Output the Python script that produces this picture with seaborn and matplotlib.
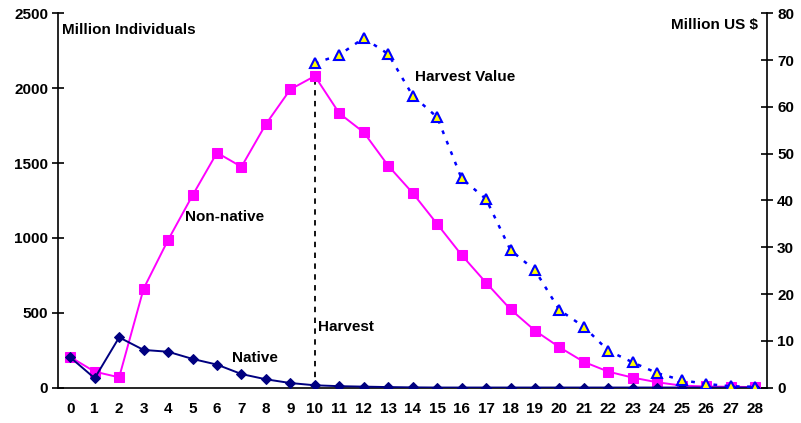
import numpy as np
import pandas as pd
import seaborn as sns
import matplotlib.pyplot as plt
from matplotlib.ticker import FixedLocator

# data
years = list(range(29))
native = [203, 63, 336, 252, 240, 192, 154, 91, 56, 31, 16, 10, 7, 4,
          2, 1, 1, 1, 1, 1, 1, 1, 1, 1, 1, 1, 1, 1, 1]
non_native = [205, 107, 69, 661, 986, 1284, 1569, 1475, 1760, 1992, 2081,
              1832, 1705, 1482, 1300, 1093, 886, 701, 523, 381, 270, 172,
              107, 67, 36, 14, 8, 6, 4]
harvest_years = list(range(10, 29))
harvest_value = [69.3, 71.1, 74.7, 71.3, 62.4, 57.8, 44.7, 40.3, 29.4, 25.1,
                 16.6, 13.0, 7.9, 5.4, 3.1, 1.6, 0.8, 0.3, 0.2]

sns.set_style('white')
plt.rcParams['font.family'] = ['Liberation Sans', 'DejaVu Sans']
plt.rcParams['font.size'] = 11
plt.rcParams['font.weight'] = 'bold'
plt.rcParams['text.color'] = 'black'
plt.rcParams['xtick.color'] = 'black'
plt.rcParams['ytick.color'] = 'black'

db = pd.DataFrame({'year': years, 'native': native, 'non_native': non_native})
hv = pd.DataFrame({'year': harvest_years, 'value': harvest_value})

fig = plt.figure(figsize=(8.01, 4.23), dpi=100)
ax = fig.add_axes([0.0724, 0.0835, 0.8856, 0.8851])

sns.lineplot(x='year', y='non_native', data=db, ax=ax, color='#FF00FF',
             marker='s', markersize=7, markeredgecolor='#FF00FF', lw=1.4,
             zorder=3)
sns.lineplot(x='year', y='native', data=db, ax=ax, color='#000080',
             marker='D', markersize=5.5, markeredgecolor='#000080', lw=1.4,
             zorder=4)
# harvest line
ax.plot([10, 10], [0, non_native[10]], color='black', ls=(0, (3, 3)),
        lw=1.3, zorder=2)

ax.set_xlim(-0.5, 28.5)
ax.set_ylim(0, 2500)
ax.set_yticks(range(0, 2501, 500))
ax.set_xticks(years)
ax.xaxis.set_minor_locator(FixedLocator(np.arange(-0.5, 29, 1)))
ax.tick_params(axis='x', which='major', length=0, pad=10)
ax.tick_params(axis='x', which='minor', length=6, width=1.2,
               direction='out', color='black')
ax.tick_params(axis='y', length=8, width=1.2, direction='inout',
               color='black', pad=3)
ax.set_xlabel('')
ax.set_ylabel('')
for s in ['left', 'bottom']:
    ax.spines[s].set_color('black')
    ax.spines[s].set_linewidth(1.2)
ax.spines['top'].set_visible(False)
ax.spines['right'].set_visible(False)

ax2 = ax.twinx()
sns.lineplot(x='year', y='value', data=hv, ax=ax2, color='#0000FF',
             ls=(0, (1.5, 3)), lw=1.8, marker='^', markersize=7,
             markerfacecolor='#FFFF00', markeredgecolor='#0000FF',
             markeredgewidth=1.5)
ax2.set_ylim(0, 80)
ax2.set_yticks(range(0, 81, 10))
ax2.tick_params(axis='y', length=8, width=1.2, direction='inout',
                color='black', pad=3)
ax2.set_xlabel('')
ax2.set_ylabel('')
ax2.spines['right'].set_color('black')
ax2.spines['right'].set_linewidth(1.2)
for s in ['top', 'left', 'bottom']:
    ax2.spines[s].set_visible(False)

# labels inside the plot
fig.text(62 / 801, 1 - 30 / 423, 'Million Individuals', ha='left',
         va='center')
fig.text(758 / 801, 1 - 25 / 423, 'Million US $', ha='right', va='center')
fig.text(185 / 801, 1 - 217 / 423, 'Non-native', ha='left', va='center')
fig.text(232 / 801, 1 - 358 / 423, 'Native', ha='left', va='center')
fig.text(318 / 801, 1 - 327 / 423, 'Harvest', ha='left', va='center')
fig.text(415 / 801, 1 - 77 / 423, 'Harvest Value', ha='left', va='center')

plt.savefig('out.png', dpi=100)
